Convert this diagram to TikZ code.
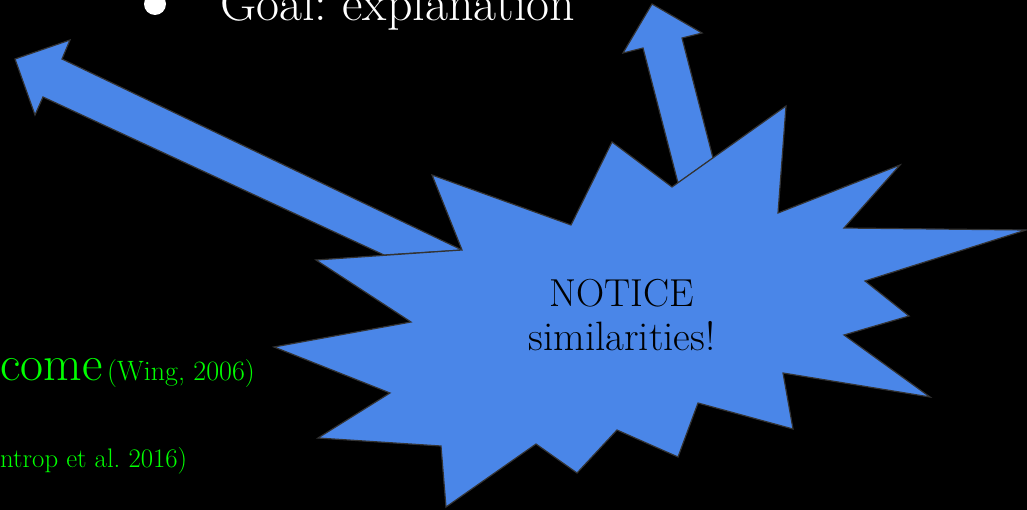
\documentclass[tikz,border=0pt]{standalone}
\definecolor{burst}{HTML}{4A86E8}
\definecolor{outline}{HTML}{333333}
\definecolor{citegreen}{HTML}{00FF00}
\frenchspacing
\tikzset{
  blob/.style={fill=burst, draw=outline, line width=1.2pt},
  cite/.style={anchor=base west, inner sep=0, text=citegreen}
}
\begin{document}
\begin{tikzpicture}[x=1pt, y=-1pt]
    \useasboundingbox (0,0) rectangle (1027,510);
    \clip (0,0) rectangle (1027,510);
    \fill[black] (0,0) rectangle (1027,510);

    % Bullet point at the top
    \fill[white] (155,4) circle (11);
    \node[anchor=base west, inner sep=0, text=white, font=\fontsize{50}{54}\selectfont] (goal) at (220,21) {Goal: explanation};

    % Citations in green
    \node[cite, font=\fontsize{50}{54}\selectfont] (come) at (0,380) {come};
    \node[cite, font=\fontsize{28}{32}\selectfont] (wing) at (107,380) {(Wing, 2006)};
    \node[cite, font=\fontsize{26.8}{30}\selectfont] (weintrop) at (0,467) {ntrop et al. 2016)};

    % Block arrows
    \draw[blob] (462,250) -- (62,59) -- (70,40) -- (15,59) -- (35,115) -- (43,97) -- (384,255) -- cycle;
    \draw[blob] (678,183) -- (643,48) -- (623,53) -- (652,4) -- (702,33) -- (682,38) -- (713,158) -- cycle;

    % Burst
    \draw[blob] (432,175) -- (462,250) -- (316,260) -- (411,322) -- (274,347) -- (390,393)
        -- (318,438) -- (441,446) -- (446,507) -- (536,444) -- (577,473) -- (617,430)
        -- (678,457) -- (698,403) -- (793,429) -- (783,373) -- (930,397) -- (844,335)
        -- (909,316) -- (865,281) -- (1026,230) -- (844,228) -- (900,165) -- (778,213)
        -- (786,106) -- (672,187) -- (612,142) -- (571,225) -- cycle;
    \node[anchor=base, inner sep=0, font=\fontsize{39}{44}\selectfont] (notice) at (622,306) {NOTICE};
    \node[anchor=base, inner sep=0, font=\fontsize{41}{44}\selectfont] (similar) at (622,350) {similarities!};
\end{tikzpicture}
\end{document}
